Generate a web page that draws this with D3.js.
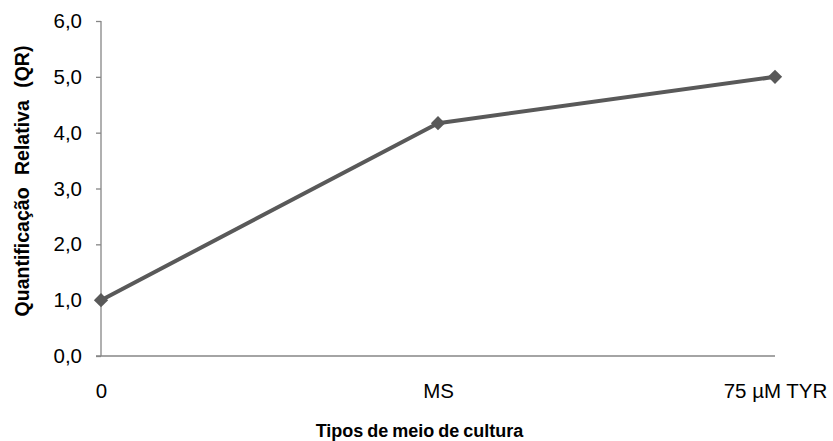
<!DOCTYPE html>
<html>
<head>
<meta charset="utf-8">
<script src="https://cdn.jsdelivr.net/npm/d3@7"></script>
<style>
  html, body { margin: 0; padding: 0; background: #fff; }
  svg { display: block; }
  text { font-family: "Liberation Sans", Arial, sans-serif; fill: #000; }
</style>
</head>
<body>
<svg id="chart" width="833" height="441"></svg>
<script>
// Relative quantification per culture medium
const categories = ["0", "MS", "75 µM TYR"];
const values = [1.0, 4.17, 5.0];
const yTicks = [0, 1, 2, 3, 4, 5, 6];
const xTitle = "Tipos de meio de cultura";
const yTitle = "Quantificação Relativa (QR)";

const svg = d3.select("#chart");
const plotLeft = 101, plotRight = 775, plotTop = 21, plotBottom = 356;

const x = d3.scalePoint().domain(categories).range([plotLeft, plotRight]);
const y = d3.scaleLinear().domain([0, 6]).range([plotBottom, plotTop]);

const axisColor = "#868686";
const lineColor = "#595959";
const fmt = d => d.toFixed(1).replace(".", ",");

// Y axis
const yAxis = svg.append("g")
  .attr("transform", `translate(${plotLeft},0)`)
  .call(d3.axisLeft(y).tickValues(yTicks).tickFormat(fmt).tickSize(5).tickPadding(14));
yAxis.select(".domain").attr("stroke", axisColor).attr("stroke-width", 1.3)
  .attr("d", `M0,${plotTop}V${plotBottom}`);
yAxis.selectAll(".tick line").attr("stroke", axisColor).attr("stroke-width", 1.3);
yAxis.selectAll(".tick text")
  .style("font-family", "'Liberation Sans', Arial, sans-serif")
  .style("font-size", "20.5px").attr("fill", "#000");

// X axis
const xAxis = svg.append("g")
  .attr("transform", `translate(0,${plotBottom})`)
  .call(d3.axisBottom(x).tickSize(0).tickPadding(27));
xAxis.select(".domain").attr("stroke", axisColor).attr("stroke-width", 1.3)
  .attr("d", `M${plotLeft - 5},0H${plotRight}`);
xAxis.selectAll(".tick text")
  .style("font-family", "'Liberation Sans', Arial, sans-serif")
  .style("font-size", "20.5px").attr("fill", "#000");

// Series line
const line = d3.line().x((d, i) => x(categories[i])).y(d => y(d));
svg.append("path")
  .datum(values)
  .attr("d", line)
  .attr("fill", "none")
  .attr("stroke", lineColor)
  .attr("stroke-width", 4)
  .attr("stroke-linejoin", "round");

// Diamond markers
const diamond = d3.symbol().type(d3.symbolDiamond2).size(130);
svg.append("g").selectAll("path")
  .data(values)
  .join("path")
  .attr("d", diamond)
  .attr("transform", (d, i) => `translate(${x(categories[i])},${y(d)})`)
  .attr("fill", lineColor);

// Axis titles
svg.append("text")
  .attr("x", 419.5)
  .attr("y", 437)
  .attr("text-anchor", "middle")
  .style("font-size", "18px")
  .style("font-weight", "bold")
  .style("word-spacing", "-1px")
  .text(xTitle);

svg.append("text")
  .attr("transform", `translate(29,181) rotate(-90)`)
  .attr("text-anchor", "middle")
  .style("font-size", "19.5px")
  .style("font-weight", "bold")
  .style("word-spacing", "7px")
  .text(yTitle);
</script>
</body>
</html>
